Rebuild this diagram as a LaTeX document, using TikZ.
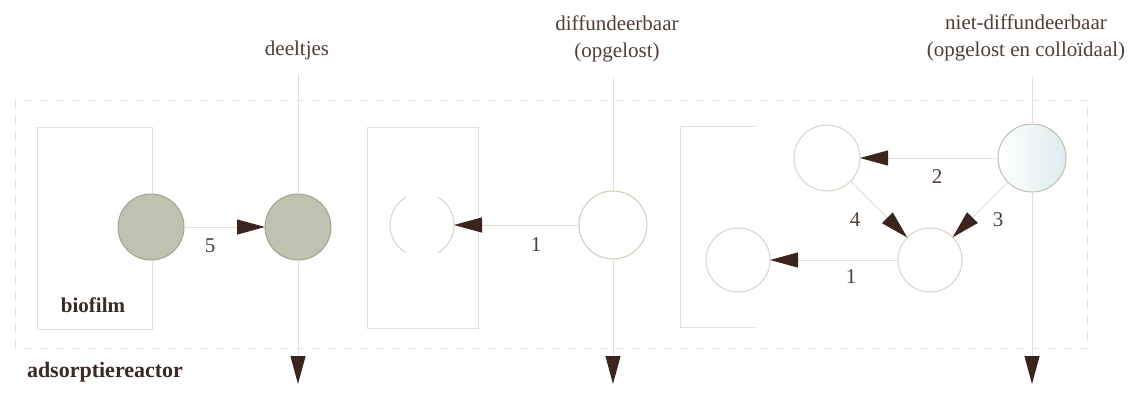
\documentclass[tikz,border=0pt]{standalone}
\usepackage{fontspec}
\setmainfont{Liberation Serif}
\usepackage{tikz}
\usetikzlibrary{arrows.meta,positioning}
\definecolor{ink}{HTML}{4E3E37}
\definecolor{inkdark}{HTML}{3A2A24}
\definecolor{tipc}{HTML}{3A241D}
\definecolor{faint}{HTML}{E3DFD5}
\definecolor{rim}{HTML}{D9D3C3}
\definecolor{particle}{HTML}{C0C1AE}
\definecolor{particlerim}{HTML}{A2A393}
\definecolor{colloid}{HTML}{DDEBEC}

\begin{document}
\begin{tikzpicture}[x=1pt,y=-1pt,
  >={Triangle[length=28pt,width=15pt,color=tipc]},
  flow/.style={->,faint,line width=1pt},
  wall/.style={faint,line width=1pt},
  blob/.style={circle,inner sep=0pt,outer sep=0pt,minimum size=66pt,draw=rim,line width=1pt},
  grey/.style={blob,fill=particle,draw=particlerim},
  tag/.style={text=ink,inner sep=0pt,font=\fontsize{21}{27}\selectfont},
  head/.style={tag,text=inkdark,font=\fontsize{21}{27}\selectfont\bfseries}]
\useasboundingbox (0,0) rectangle (1131,392);
% reactor and the three compartments
\draw[wall,dash pattern=on 8pt off 8pt] (15,100) rectangle (1087,348);
\draw[wall] (37,127) rectangle (152,329);
\draw[wall] (367,127) rectangle (478,328);
\draw[wall] (755,126) -- (680,126) -- (680,327) -- (755,327);
% the particles
\node[grey] (bio) at (151,227) {};
\node[grey] (part) at (298,227) {};
\node[blob,minimum size=64pt,draw=none] (ads) at (422,225) {};
\draw[rim,line width=1pt] (ads.60) arc[start angle=60,end angle=-60,radius=32pt]
  (ads.120) arc[start angle=120,end angle=240,radius=32pt];
\node[blob,minimum size=68pt,draw=rim!120] (diff) at (613,225) {};
\node[blob,minimum size=64pt] (floc) at (738,260) {};
\node[blob,minimum size=64pt] (mid) at (930,260) {};
\node[blob] (up) at (827,158) {};
\node[blob,minimum size=68pt,left color=white,right color=colloid,draw=particlerim!70] (coll) at (1032,158) {};
% headings
\node[tag,anchor=base] (deel) at (297,55) {deeltjes};
\node[tag,anchor=north,align=center] (dif) at (617,16) {diffundeerbaar\\(opgelost)};
\node[tag,anchor=north,align=center] (niet) at (1026,15) {niet-diffundeerbaar\\(opgelost en colloïdaal)};
\node[head,anchor=base] (bf) at (93,312) {biofilm};
\node[head,anchor=base,font=\fontsize{22}{27}\selectfont\bfseries] (reac) at (105,377) {adsorptiereactor};
% feed lines from the top
\draw[wall] ([yshift=-14pt]deel.south -| part) -- (part);
\draw[wall] ([yshift=-15pt]dif.south -| diff) -- (diff);
\draw[wall] ([yshift=-15pt]niet.south -| coll) -- (coll);
% out of the reactor
\foreach \n/\x in {part/298,diff/613,coll/1032} {
  \coordinate (out-\n) at (\x,384);
  \draw[flow] (\n) -- (out-\n);
}
% the conversions
\draw[flow] (bio) -- (part);
\draw[flow] (diff) -- (ads);
\draw[flow] (mid) -- (floc);
\draw[flow] (coll) -- (up);
\draw[flow] (up) -- (mid);
\draw[flow] (coll) -- (mid);
\node[tag] (n5) at (210,246) {5};
\node[tag] (n1a) at (536,245) {1};
\node[tag] (n1b) at (851,277) {1};
\node[tag] (n2) at (937,177) {2};
\node[tag] (n4) at (855,220) {4};
\node[tag] (n3) at (998,220) {3};
\end{tikzpicture}
\end{document}
